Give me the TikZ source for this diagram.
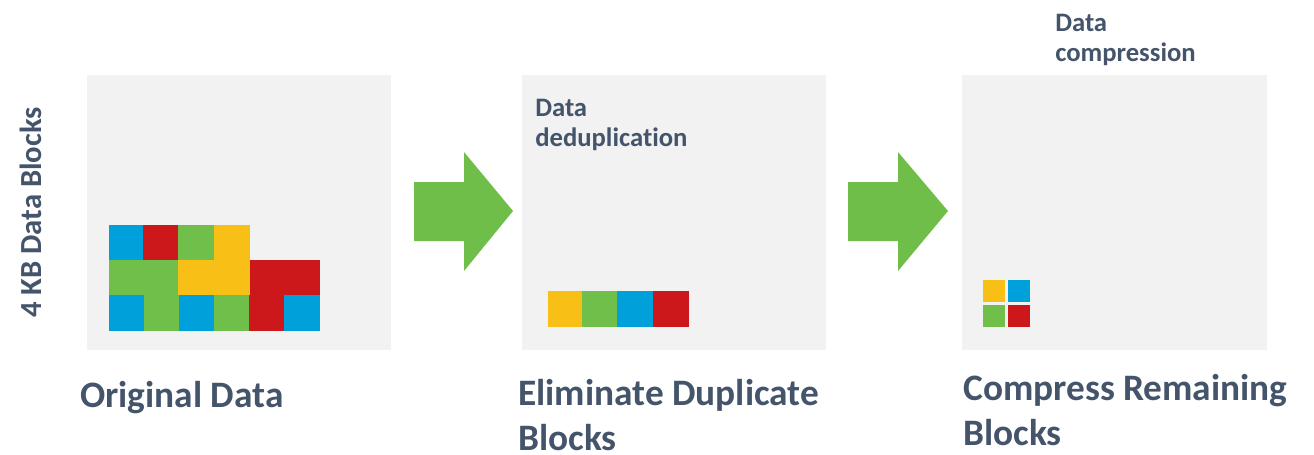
\documentclass[tikz,border=0pt]{standalone}
\usepackage{fontspec}
\setmainfont{Carlito}[Ligatures=NoCommon]
\definecolor{panelgray}{HTML}{F2F2F2}
\definecolor{slate}{HTML}{44546A}
\definecolor{blkblue}{HTML}{00A1DB}
\definecolor{blkred}{HTML}{CD181B}
\definecolor{blkgreen}{HTML}{71BF4B}
\definecolor{blkyellow}{HTML}{F8BF17}
\definecolor{arrowgreen}{HTML}{70BE4A}
\tikzset{
  panel/.style={fill=panelgray, draw=none},
  blk/.style={fill=#1, draw=none},
  bigarrow/.style={fill=arrowgreen, draw=none},
  title/.style={text=slate, anchor=base west, inner sep=0pt, align=left,
    font=\bfseries\fontsize{28}{33.75}\selectfont},
  note/.style={text=slate, anchor=base west, inner sep=0pt, align=left,
    font=\bfseries\fontsize{20}{22.5}\selectfont},
}
\begin{document}
\begin{tikzpicture}[x=0.75pt, y=-0.75pt]
\useasboundingbox (0,0) rectangle (1314,454);

% three stage panels
\fill[panel] (87,75) rectangle (391,350);
\fill[panel] (522,75) rectangle (826,350);
\fill[panel] (962,75) rectangle (1267,350);

% original 4 KB blocks
\fill[blk=blkblue]   (109,225) rectangle (143,260);
\fill[blk=blkred]    (143,225) rectangle (178,260);
\fill[blk=blkgreen]  (178,225) rectangle (214,260);
\fill[blk=blkyellow] (214,225) rectangle (250,260);
\fill[blk=blkgreen]  (109,260) rectangle (178,295);
\fill[blk=blkyellow] (178,260) rectangle (250,295);
\fill[blk=blkred]    (250,260) rectangle (320,295);
\fill[blk=blkblue]   (109,295) rectangle (144,331);
\fill[blk=blkgreen]  (144,295) rectangle (179,331);
\fill[blk=blkblue]   (179,295) rectangle (214,331);
\fill[blk=blkgreen]  (214,295) rectangle (249,331);
\fill[blk=blkred]    (249,295) rectangle (284,331);
\fill[blk=blkblue]   (284,295) rectangle (320,331);

% unique blocks after deduplication
\fill[blk=blkyellow] (548,291) rectangle (582,327);
\fill[blk=blkgreen]  (582,291) rectangle (617,327);
\fill[blk=blkblue]   (617,291) rectangle (653,327);
\fill[blk=blkred]    (653,291) rectangle (689,327);

% compressed blocks
\fill[blk=blkyellow] (983,280) rectangle (1005,302);
\fill[blk=blkblue]   (1008,280) rectangle (1030,302);
\fill[blk=blkgreen]  (983,305) rectangle (1005,327);
\fill[blk=blkred]    (1008,305) rectangle (1030,327);

% stage arrows
\fill[bigarrow] (414,182) -- (464,182) -- (464,152) -- (513,211)
  -- (464,271) -- (464,241) -- (414,241) -- cycle;
\fill[bigarrow] (848,182) -- (898,182) -- (898,152) -- (948,211)
  -- (898,271) -- (898,241) -- (848,241) -- cycle;

% labels (base anchor sits on the last line's baseline)
\node (axis) [text=slate, inner sep=0pt, rotate=90, anchor=base,
  font=\bfseries\fontsize{23}{28}\selectfont] at (41,212.5) {4 KB Data Blocks};
\node (t1) [title] at (80,407) {Original Data};
\node (t2) [title] at (518,450) {Eliminate Duplicate\\Blocks};
\node (t3) [title] at (963,445) {Compress Remaining\\Blocks};
\node (n2) [note] at (535,146) {Data\\deduplication};
\node (n3) [note] at (1055,61) {Data\\compression};
\end{tikzpicture}
\end{document}
